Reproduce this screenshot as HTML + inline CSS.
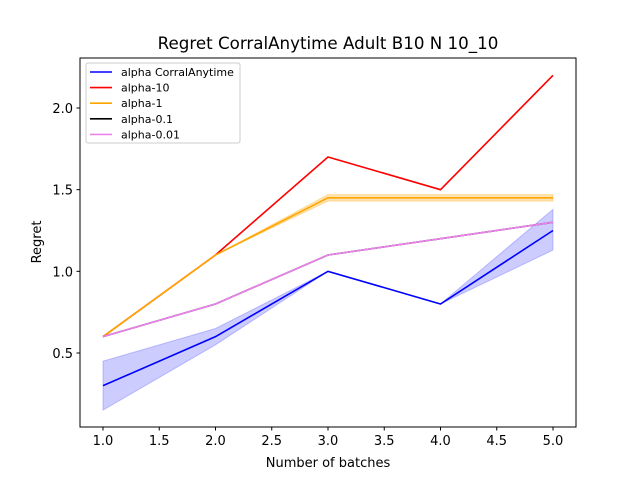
<!DOCTYPE html>
<html><head><meta charset="utf-8"><style>
body{margin:0;background:#fff}
svg text{font-family:"DejaVu Sans","Liberation Sans",sans-serif}
</style></head><body>
<svg id="chart" width="640" height="480" xmlns="http://www.w3.org/2000/svg">
<rect width="640" height="480" fill="#fff"/>
<text x="328" y="49" font-size="16.7" text-anchor="middle">Regret CorralAnytime Adult B10 N 10_10</text>
<g id="plot"></g>
<rect x="80" y="58" width="496" height="369" fill="none" stroke="#000" stroke-width="1"/>
<text x="328" y="467" font-size="13" text-anchor="middle">Number of batches</text>
<text x="0" y="0" font-size="13" text-anchor="middle" transform="translate(41,242) rotate(-90)">Regret</text>
<g>
<rect x="86" y="63" width="154" height="80" fill="#fff" fill-opacity="0.8" stroke="#ccc" rx="2"/>
<g id="legend-entries"></g>
</g>
</svg>
<script>
const batches=[1,2,3,4,5];
const xTicks=[1.0,1.5,2.0,2.5,3.0,3.5,4.0,4.5,5.0];
const yTicks=[0.5,1.0,1.5,2.0];
const corral=[0.3,0.6,1.0,0.8,1.25];
const corralLo=[0.15,0.55,1.0,0.8,1.13];
const corralHi=[0.45,0.65,1.0,0.8,1.38];
const alpha10=[0.6,1.1,1.7,1.5,2.2];
const alpha1=[0.6,1.1,1.45,1.45,1.45];
const alpha1Lo=[0.6,1.1,1.43,1.43,1.43];
const alpha1Hi=[0.6,1.1,1.47,1.47,1.47];
const alpha01=[0.6,0.8,1.1,1.2,1.3];
const alpha001=[0.6,0.8,1.1,1.2,1.3];
const names=["alpha CorralAnytime","alpha-10","alpha-1","alpha-0.1","alpha-0.01"];
const colors=["#0000ff","#ff0000","#ffa500","#000000","#ee82ee"];
const X=v=>103+(v-1)*112.5;
const Y=v=>353-(v-0.5)*163.33;
const NS="http://www.w3.org/2000/svg";
const plot=document.getElementById('plot');
function mk(t,a,parent){const e=document.createElementNS(NS,t);for(const k in a)e.setAttribute(k,a[k]);(parent||plot).appendChild(e);return e;}
xTicks.forEach(t=>{const x=X(t);
const l=mk('line',{x1:x,x2:x,y1:427,y2:430.5,stroke:'#000'});


const tx=mk('text',{x:x,y:445,'font-size':13,'text-anchor':'middle'});tx.textContent=t.toFixed(1);

});
yTicks.forEach(t=>{const y=Y(t);
const l=mk('line',{x1:76.5,x2:80,y1:y,y2:y,stroke:'#000'});


const tx=mk('text',{x:73,y:y+5,'font-size':13,'text-anchor':'end'});tx.textContent=t.toFixed(1);

});
function band(lo,hi,c,op,name){const pts=batches.map((b,i)=>X(b)+','+Y(hi[i])).concat(batches.map((b,i)=>X(b)+','+Y(lo[i])).reverse());
const p=mk('polygon',{points:pts.join(' '),fill:c,'fill-opacity':op,stroke:c,'stroke-opacity':op});

}
function line(v,c,name){const p=mk('polyline',{points:batches.map((b,i)=>X(b)+','+Y(v[i])).join(' '),fill:'none',stroke:c,'stroke-width':1.6});

}
band(corralLo,corralHi,'#0000ff',0.2,'corral-band');
band(alpha1Lo,alpha1Hi,'#ffa500',0.3,'alpha-1-band');
line(corral,colors[0],'line-alpha-corralanytime');
line(alpha10,colors[1],'line-alpha-10');
line(alpha1,colors[2],'line-alpha-1');
line(alpha01,colors[3],'line-alpha-0.1');
line(alpha001,colors[4],'line-alpha-0.01');
const lg=document.getElementById('legend-entries');
names.forEach((n,i)=>{const y=72+i*15.6;
const g=mk('g',{},lg);


mk('line',{x1:90,x2:112,y1:y,y2:y,stroke:colors[i],'stroke-width':1.6},g);
const t=mk('text',{x:121,y:y+4,'font-size':11},g);t.textContent=n;});
</script>
</body></html>
